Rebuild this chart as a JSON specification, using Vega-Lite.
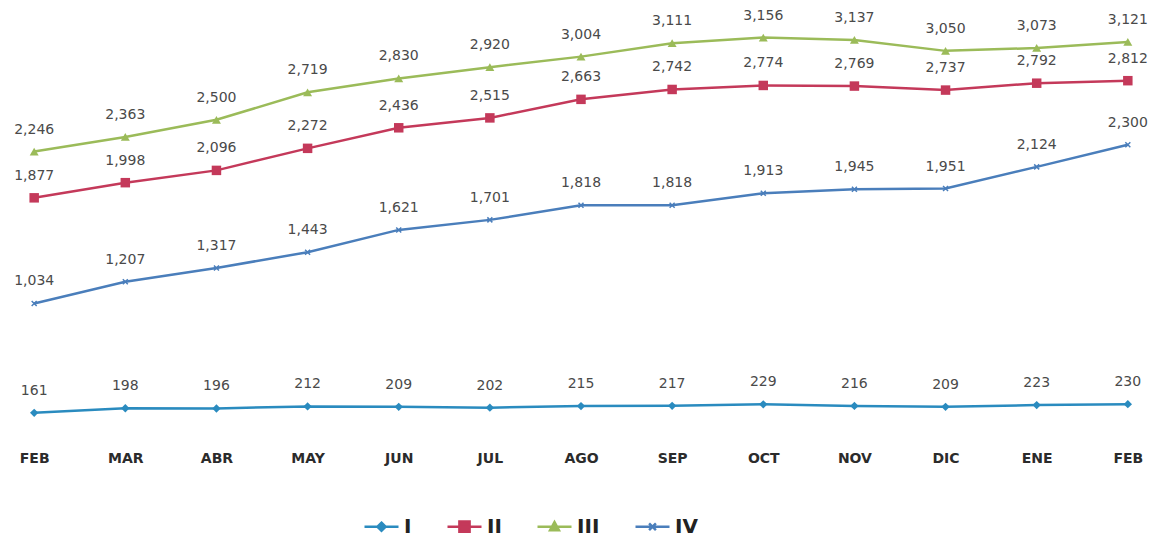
{
  "$schema": "https://vega.github.io/schema/vega-lite/v6.json",
  "width": 1162,
  "height": 433,
  "autosize": {"type": "none"},
  "padding": {"left": 0, "right": 0, "top": 0, "bottom": 111},
  "background": "white",
  "config": {"view": {"stroke": null}},
  "data": {"values": [
    {"mes": "FEB", "serie": "I", "v": 161},
    {"mes": "MAR", "serie": "I", "v": 198},
    {"mes": "ABR", "serie": "I", "v": 196},
    {"mes": "MAY", "serie": "I", "v": 212},
    {"mes": "JUN", "serie": "I", "v": 209},
    {"mes": "JUL", "serie": "I", "v": 202},
    {"mes": "AGO", "serie": "I", "v": 215},
    {"mes": "SEP", "serie": "I", "v": 217},
    {"mes": "OCT", "serie": "I", "v": 229},
    {"mes": "NOV", "serie": "I", "v": 216},
    {"mes": "DIC", "serie": "I", "v": 209},
    {"mes": "ENE", "serie": "I", "v": 223},
    {"mes": "FEB ", "serie": "I", "v": 230},
    {"mes": "FEB", "serie": "II", "v": 1877},
    {"mes": "MAR", "serie": "II", "v": 1998},
    {"mes": "ABR", "serie": "II", "v": 2096},
    {"mes": "MAY", "serie": "II", "v": 2272},
    {"mes": "JUN", "serie": "II", "v": 2436},
    {"mes": "JUL", "serie": "II", "v": 2515},
    {"mes": "AGO", "serie": "II", "v": 2663},
    {"mes": "SEP", "serie": "II", "v": 2742},
    {"mes": "OCT", "serie": "II", "v": 2774},
    {"mes": "NOV", "serie": "II", "v": 2769},
    {"mes": "DIC", "serie": "II", "v": 2737},
    {"mes": "ENE", "serie": "II", "v": 2792},
    {"mes": "FEB ", "serie": "II", "v": 2812},
    {"mes": "FEB", "serie": "III", "v": 2246},
    {"mes": "MAR", "serie": "III", "v": 2363},
    {"mes": "ABR", "serie": "III", "v": 2500},
    {"mes": "MAY", "serie": "III", "v": 2719},
    {"mes": "JUN", "serie": "III", "v": 2830},
    {"mes": "JUL", "serie": "III", "v": 2920},
    {"mes": "AGO", "serie": "III", "v": 3004},
    {"mes": "SEP", "serie": "III", "v": 3111},
    {"mes": "OCT", "serie": "III", "v": 3156},
    {"mes": "NOV", "serie": "III", "v": 3137},
    {"mes": "DIC", "serie": "III", "v": 3050},
    {"mes": "ENE", "serie": "III", "v": 3073},
    {"mes": "FEB ", "serie": "III", "v": 3121},
    {"mes": "FEB", "serie": "IV", "v": 1034},
    {"mes": "MAR", "serie": "IV", "v": 1207},
    {"mes": "ABR", "serie": "IV", "v": 1317},
    {"mes": "MAY", "serie": "IV", "v": 1443},
    {"mes": "JUN", "serie": "IV", "v": 1621},
    {"mes": "JUL", "serie": "IV", "v": 1701},
    {"mes": "AGO", "serie": "IV", "v": 1818},
    {"mes": "SEP", "serie": "IV", "v": 1818},
    {"mes": "OCT", "serie": "IV", "v": 1913},
    {"mes": "NOV", "serie": "IV", "v": 1945},
    {"mes": "DIC", "serie": "IV", "v": 1951},
    {"mes": "ENE", "serie": "IV", "v": 2124},
    {"mes": "FEB ", "serie": "IV", "v": 2300}
  ]},
  "encoding": {
    "x": {
      "field": "mes", "type": "ordinal", "sort": null,
      "scale": {"type": "point", "padding": 0.375},
      "axis": {
        "title": null, "ticks": false, "domain": false, "grid": false,
        "labelAngle": 0, "labelPadding": 18,
        "labelFont": "DejaVu Sans", "labelFontWeight": "bold",
        "labelFontSize": 14, "labelColor": "#2b2b2b"
      }
    },
    "y": {
      "field": "v", "type": "quantitative",
      "scale": {"domain": [0, 3456], "nice": false, "zero": true},
      "axis": null
    }
  },
  "layer": [
    {
      "mark": {"type": "line", "strokeWidth": 2.5},
      "encoding": {
        "color": {
          "field": "serie", "type": "nominal",
          "scale": {"domain": ["I", "II", "III", "IV"], "range": ["#2a8bbf", "#c4395a", "#9bbb59", "#4a7ebb"]},
          "legend": {
            "title": null,
            "orient": "none",
            "legendX": 363,
            "legendY": 508,
            "direction": "horizontal",
            "symbolSize": 1156,
            "symbolStrokeWidth": 2.5,
            "labelFont": "DejaVu Sans",
            "labelFontSize": 20,
            "labelFontWeight": "bold",
            "labelColor": "#222222",
            "labelOffset": 4,
            "columnPadding": 30,
            "encode": {
              "symbols": {
                "update": {
                  "shape": {"signal": "datum.value == 'I' ? 'M-1,0H1M0,-0.24L0.24,0L0,0.24L-0.24,0Z' : datum.value == 'II' ? 'M-1,0H1M-0.3,-0.3H0.3V0.3H-0.3Z' : datum.value == 'III' ? 'M-1,0H1M0,-0.27L0.26,0.2H-0.26Z' : 'M-1,0H1M-0.2,-0.2L0.2,0.2M-0.2,0.2L0.2,-0.2'"},
                  "stroke": {"scale": "color", "field": "value"},
                  "fill": {"scale": "color", "field": "value"},
                  "strokeWidth": {"value": 2.5}
                }
              }
            }
          }
        }
      }
    },
    {
      "transform": [{"filter": "datum.serie == 'I'"}],
      "mark": {"type": "point", "filled": true, "shape": "diamond", "size": 70, "color": "#2a8bbf", "opacity": 1}
    },
    {
      "transform": [{"filter": "datum.serie == 'II'"}],
      "mark": {"type": "point", "filled": true, "shape": "square", "size": 90, "color": "#c4395a", "opacity": 1}
    },
    {
      "transform": [{"filter": "datum.serie == 'III'"}],
      "mark": {"type": "point", "filled": true, "shape": "triangle-up", "size": 80, "color": "#9bbb59", "opacity": 1}
    },
    {
      "transform": [{"filter": "datum.serie == 'IV'"}],
      "mark": {"type": "point", "filled": false, "shape": "M-1,-1L1,1M-1,1L1,-1", "size": 25, "color": "#4a7ebb", "strokeWidth": 1.5, "opacity": 1}
    },
    {
      "mark": {"type": "text", "dy": -22, "font": "DejaVu Sans", "fontSize": 14, "color": "#4a4a4a"},
      "encoding": {
        "text": {"field": "v", "type": "quantitative", "format": ","}
      }
    }
  ]
}
